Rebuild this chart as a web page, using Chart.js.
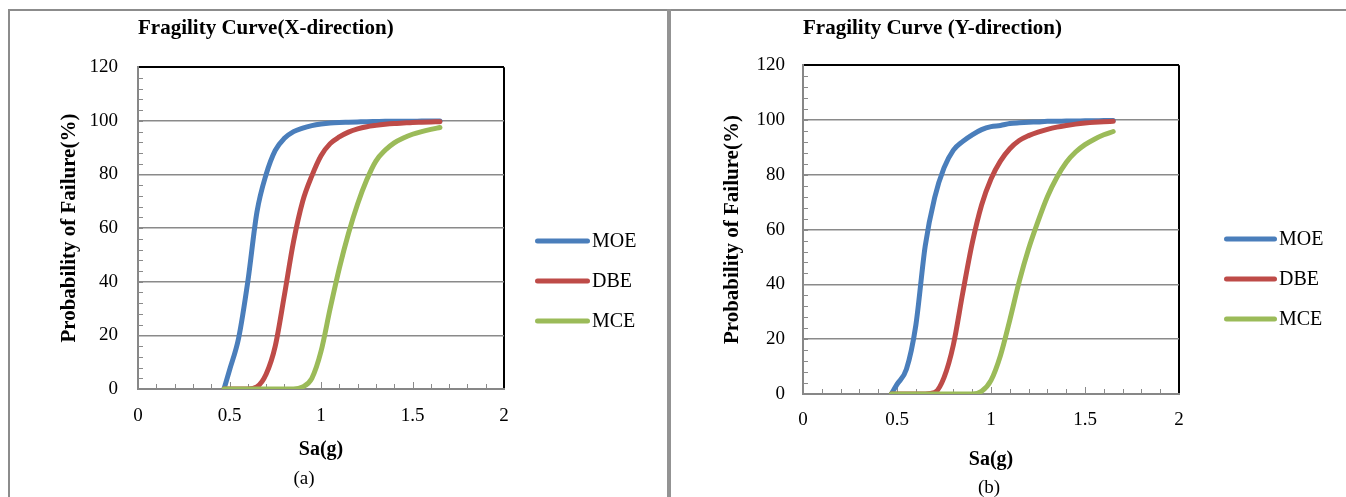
<!DOCTYPE html>
<html>
<head>
<meta charset="utf-8">
<title>Fragility Curves</title>
<script src="https://cdn.jsdelivr.net/npm/chart.js@4.4.1/dist/chart.umd.min.js"></script>
<style>
  html, body { margin: 0; padding: 0; background: #fff; }
  body { position: relative; width: 1346px; height: 497px; overflow: hidden; font-family: 'Liberation Serif', 'Times New Roman', serif; }
  .rule { position: absolute; background: #8c8c8c; }
  canvas { position: absolute; top: 0; }
  .caption { position: absolute; width: 100px; text-align: center; font-size: 19px; line-height: 22px; color: #000; }
</style>
</head>
<body>
<div class="rule" style="left:8px;top:9px;width:1338px;height:2px"></div>
<div class="rule" style="left:8px;top:9px;width:2px;height:488px"></div>
<div class="rule" style="left:667px;top:9px;width:4px;height:488px;background:#939393"></div>
<canvas id="chartX" width="667" height="497" style="left:0"></canvas>
<canvas id="chartY" width="674" height="497" style="left:672px"></canvas>
<div class="caption" style="left:254px;top:467px">(a)</div>
<div class="caption" style="left:939px;top:476px">(b)</div>
<script>
// Sa(g) values where the curves were read
const sa = [0.47, 0.5, 0.55, 0.6, 0.65, 0.7, 0.75, 0.8, 0.85, 0.9, 0.95, 1.0, 1.05,
            1.1, 1.15, 1.2, 1.25, 1.3, 1.35, 1.4, 1.45, 1.5, 1.55, 1.6, 1.65];

const seriesNames = ['MOE', 'DBE', 'MCE'];

// probability of failure (%) - X direction
const moeX = [0, 7, 19, 40, 66, 80, 89, 93.5, 96, 97.3, 98.2, 98.8, 99.2,
              99.4, 99.5, 99.6, 99.7, 99.75, 99.8, 99.8, 99.85, 99.85, 99.9, 99.9, 99.9];
const dbeX = [0, 0, 0, 0, 0.8, 5.5, 16, 35, 55, 70, 79.5, 87, 91.5,
              94, 95.8, 97, 97.8, 98.3, 98.7, 99.0, 99.2, 99.4, 99.5, 99.6, 99.7];
const mceX = [0, 0, 0, 0, 0, 0, 0, 0, 0, 0.8, 4, 14, 30,
              45, 58, 69, 78, 85, 89, 91.8, 93.6, 95, 96, 96.8, 97.5];

// probability of failure (%) - Y direction
const moeY = [0, 3.5, 9, 25, 54, 71.6, 82.5, 89, 92.2, 94.6, 96.5, 97.6, 98,
              98.7, 99, 99.2, 99.3, 99.5, 99.5, 99.6, 99.6, 99.7, 99.7, 99.8, 99.8];
const dbeY = [0, 0, 0, 0, 0, 0.5, 6, 18, 37, 55, 69, 78.5, 85,
              89.5, 92.5, 94.3, 95.6, 96.6, 97.4, 98, 98.5, 98.9, 99.2, 99.4, 99.5];
const mceY = [0, 0, 0, 0, 0, 0, 0, 0, 0, 0, 1, 5, 14,
              27, 41, 53, 63, 72, 79, 84.5, 88.3, 91, 93, 94.6, 95.8];

const xTickLabels = ['0', '0.5', '1', '1.5', '2'];
const yTickLabels = ['0', '20', '40', '60', '80', '100', '120'];

const seriesColors = ['#4a7ebb', '#be4b48', '#9bbb59'];
const SERIF = "'Liberation Serif', 'Times New Roman', serif";

Chart.defaults.color = '#000';
Chart.defaults.font.family = SERIF;

// small inward tick marks like the excel original
const minorTicks = {
    id: 'minorTicks',
    beforeDatasetsDraw(chart) {
        const { ctx, chartArea, scales } = chart;
        ctx.save();
        ctx.strokeStyle = '#8a8a8a';
        ctx.lineWidth = 1;
        ctx.beginPath();
        for (let v = 4; v < 120; v += 4) {
            const py = Math.round(scales.y.getPixelForValue(v)) + 0.5;
            ctx.moveTo(chartArea.left, py);
            ctx.lineTo(chartArea.left + 5, py);
        }
        for (let k = 1; k < 20; k++) {
            const px = Math.round(scales.x.getPixelForValue(k / 10)) + 0.5;
            const len = k % 5 === 0 ? 7 : 5;
            ctx.moveTo(px, chartArea.bottom);
            ctx.lineTo(px, chartArea.bottom - len);
        }
        ctx.stroke();
        ctx.restore();
    }
};

// legend on the right, line + label
const sideLegend = {
    id: 'sideLegend',
    afterDraw(chart, args, opts) {
        const { ctx, chartArea } = chart;
        const x0 = chartArea.right + opts.offsetX;
        ctx.save();
        ctx.font = '20px ' + SERIF;
        ctx.textBaseline = 'middle';
        ctx.textAlign = 'left';
        chart.data.datasets.forEach((ds, i) => {
            const y = opts.top + i * opts.gap;
            ctx.strokeStyle = ds.borderColor;
            ctx.lineWidth = 5;
            ctx.lineCap = 'round';
            ctx.beginPath();
            ctx.moveTo(x0 + 2.5, y);
            ctx.lineTo(x0 + opts.lineLen - 2.5, y);
            ctx.stroke();
            ctx.fillStyle = '#000';
            ctx.fillText(ds.label, x0 + opts.lineLen + 2, y + 1);
        });
        ctx.restore();
    }
};

function buildChart(canvasId, titleText, series, lay) {
    const datasets = seriesNames.map((name, i) => ({
        label: name,
        data: sa.map((x, k) => ({ x: x, y: series[i][k] })),
        borderColor: seriesColors[i],
        backgroundColor: seriesColors[i],
        borderWidth: 5,
        pointRadius: 0,
        showLine: true,
        cubicInterpolationMode: 'monotone',
        borderCapStyle: 'round',
        borderJoinStyle: 'round',
        order: 3 - i
    }));

    return new Chart(document.getElementById(canvasId), {
        type: 'scatter',
        data: { datasets },
        plugins: [minorTicks, sideLegend],
        options: {
            responsive: false,
            animation: false,
            devicePixelRatio: 1,
            layout: { padding: { left: lay.padLeft, right: lay.padRight, top: 0, bottom: lay.padBottom } },
            plugins: {
                legend: { display: false },
                tooltip: { enabled: false },
                title: {
                    display: true,
                    text: titleText,
                    align: 'start',
                    fullSize: false,
                    color: '#000',
                    font: { family: SERIF, size: 21, weight: 'bold', lineHeight: 1.2 },
                    padding: { top: lay.titleTop, bottom: lay.titleBottom }
                },
                sideLegend: { offsetX: lay.legendX, lineLen: lay.legendLen, top: lay.legendTop, gap: 40 }
            },
            scales: {
                x: {
                    type: 'linear',
                    min: 0,
                    max: 2,
                    afterFit: (s) => { s.height = lay.xHeight; },
                    ticks: {
                        stepSize: 0.5,
                        padding: lay.xTickPad,
                        color: '#000',
                        font: { family: SERIF, size: 19 },
                        callback: (v, i) => xTickLabels[i]
                    },
                    grid: {
                        drawTicks: false,
                        color: (c) => (c.tick && c.tick.value === 2 ? '#000' : 'rgba(0,0,0,0)'),
                        lineWidth: 2
                    },
                    border: { color: '#878787', width: 2 },
                    title: {
                        display: true,
                        text: 'Sa(g)',
                        color: '#000',
                        font: { family: SERIF, size: 20, weight: 'bold', lineHeight: 1.2 },
                        padding: { top: 0, bottom: lay.xTitlePad }
                    }
                },
                y: {
                    type: 'linear',
                    min: 0,
                    max: 120,
                    afterFit: (s) => { s.width = lay.yWidth; },
                    ticks: {
                        stepSize: 20,
                        padding: lay.yTickPad,
                        color: '#000',
                        font: { family: SERIF, size: 19 },
                        callback: (v, i) => yTickLabels[i]
                    },
                    grid: {
                        drawTicks: false,
                        color: (c) => (c.tick && c.tick.value === 120 ? '#000' : '#8a8a8a'),
                        lineWidth: (c) => (c.tick && c.tick.value === 120 ? 2 : 1.5)
                    },
                    border: { color: '#878787', width: 2 },
                    title: {
                        display: true,
                        text: 'Probability of Failure(%)',
                        color: '#000',
                        font: { family: SERIF, size: 21, weight: 'bold', lineHeight: 1.2 },
                        padding: { top: lay.yTitlePad, bottom: 0 }
                    }
                }
            }
        }
    });
}

buildChart('chartX', 'Fragility Curve(X-direction)', [moeX, dbeX, mceX], {
    padLeft: 40, yWidth: 98, yTitlePad: 17, yTickPad: 20,
    padRight: 163, padBottom: 20, xHeight: 88, xTitlePad: 15, xTickPad: 16,
    titleTop: 16, titleBottom: 26,
    legendX: 31, legendLen: 55, legendTop: 241
});

buildChart('chartY', 'Fragility Curve (Y-direction)', [moeY, dbeY, mceY], {
    padLeft: 30, yWidth: 101, yTitlePad: 18, yTickPad: 18,
    padRight: 167, padBottom: 15, xHeight: 88, xTitlePad: 10, xTickPad: 15,
    titleTop: 16, titleBottom: 24,
    legendX: 45, legendLen: 53, legendTop: 239
});
</script>
</body>
</html>
